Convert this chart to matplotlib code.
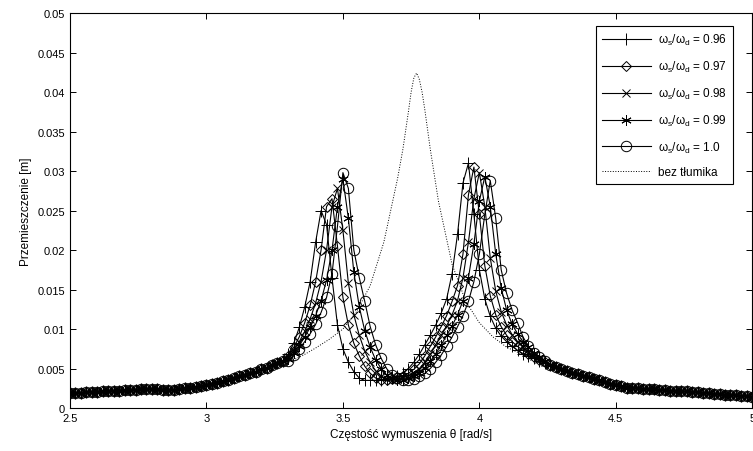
import numpy as np
import matplotlib
matplotlib.use('Agg')
import matplotlib.pyplot as plt

plt.rcParams['font.family'] = ['Liberation Sans', 'DejaVu Sans']
plt.rcParams['mathtext.fontset'] = 'custom'
plt.rcParams['mathtext.rm'] = 'Liberation Sans'
plt.rcParams['font.size'] = 8

# frequency grid (rad/s), step 0.02
x_left = np.round(np.arange(2.50, 3.29, 0.02), 2)
x_mid = np.round(np.arange(3.30, 4.29, 0.02), 2)
x_right = np.round(np.arange(4.30, 5.01, 0.02), 2)

# tails common for all damper curves
tail_left = [.0019, .0019, .0019, .0020, .0020, .0020, .0021, .0021, .0022, .0022,
             .0023, .0023, .0023, .0024, .0024, .0024, .0024, .0023, .0023, .0023,
             .0024, .0025, .0026, .0027, .0028, .0029, .0031, .0032, .0034, .0036,
             .0038, .0040, .0042, .0044, .0046, .0049, .0051, .0054, .0057, .0060]
tail_right = [.0050, .0047, .0045, .0043, .0041, .0039, .0037, .0035, .0033, .0031,
              .0029, .0028, .0026, .0025, .0025, .0024, .0024, .0024, .0023, .0023,
              .0022, .0022, .0021, .0021, .0020, .0020, .0019, .0019, .0018, .0018,
              .0017, .0017, .0016, .0015, .0015, .0014]

# middle part 3.30 .. 4.28
mid_096 = [.0068, .0082, .0102, .0128, .0160, .0210, .0250, .0232, .0165, .0105,
           .0075, .0058, .0046, .0038, .0035, .0035, .0035, .0036, .0037, .0039,
           .0041, .0045, .0050, .0058, .0068, .0080, .0092, .0105, .0120, .0138,
           .0170, .0220, .0285, .0310, .0245, .0175, .0138, .0116, .0101, .0091,
           .0084, .0078, .0073, .0069, .0066, .0063, .0060, .0057, .0054, .0052]
mid_097 = [.0066, .0077, .0090, .0108, .0130, .0160, .0200, .0255, .0265, .0205,
           .0140, .0105, .0082, .0066, .0053, .0044, .0038, .0036, .0036, .0037,
           .0039, .0041, .0044, .0049, .0056, .0066, .0078, .0090, .0103, .0117,
           .0135, .0155, .0195, .0270, .0305, .0245, .0180, .0142, .0118, .0103,
           .0092, .0084, .0078, .0073, .0069, .0065, .0061, .0058, .0055, .0052]
mid_098 = [.0064, .0073, .0084, .0097, .0113, .0133, .0160, .0200, .0255, .0278,
           .0225, .0158, .0118, .0092, .0072, .0058, .0047, .0040, .0037, .0036,
           .0037, .0039, .0041, .0045, .0050, .0058, .0068, .0080, .0092, .0104,
           .0118, .0136, .0165, .0210, .0265, .0298, .0255, .0190, .0148, .0122,
           .0105, .0093, .0084, .0077, .0071, .0066, .0062, .0058, .0055, .0052]
mid_099 = [.0062, .0070, .0079, .0090, .0102, .0117, .0136, .0162, .0200, .0255,
           .0290, .0240, .0172, .0128, .0098, .0077, .0061, .0050, .0042, .0038,
           .0036, .0036, .0038, .0041, .0045, .0051, .0059, .0069, .0080, .0092,
           .0104, .0118, .0136, .0165, .0208, .0262, .0293, .0255, .0195, .0152,
           .0124, .0106, .0094, .0084, .0077, .0070, .0064, .0059, .0055, .0052]
mid_100 = [.0060, .0067, .0075, .0084, .0094, .0106, .0121, .0140, .0170, .0230,
           .0298, .0278, .0200, .0165, .0135, .0103, .0080, .0063, .0050, .0042,
           .0038, .0036, .0036, .0037, .0040, .0044, .0050, .0058, .0067, .0078,
           .0090, .0103, .0117, .0135, .0160, .0195, .0245, .0288, .0240, .0175,
           .0145, .0124, .0108, .0090, .0078, .0070, .0064, .0059, .0055, .0052]

# response without damper
x_free = [2.5, 2.6, 2.7, 2.8, 2.9, 3.0, 3.1, 3.2, 3.3, 3.35, 3.4, 3.45, 3.5, 3.55,
          3.6, 3.65, 3.7, 3.72, 3.74, 3.75, 3.76, 3.77, 3.78, 3.79, 3.8, 3.82,
          3.85, 3.9, 3.95, 4.0, 4.05, 4.1, 4.15, 4.2, 4.3, 4.4, 4.5, 4.6, 4.7,
          4.8, 4.9, 5.0]
y_free = [.0019, .0021, .0023, .0025, .0027, .0031, .0037, .0046, .0058, .0066,
          .0076, .0087, .0100, .0122, .0155, .0210, .0290, .0328, .0375, .0400,
          .0418, .0424, .0416, .0400, .0378, .0328, .0262, .0182, .0135, .0108,
          .0090, .0077, .0069, .0064, .0050, .0039, .0030, .0025, .0022, .0019,
          .0016, .0014]

labels = ['0.96', '0.97', '0.98', '0.99', '1.0']
markers = ['+', 'D', 'x', (6, 2, 0), 'o']
msizes = [8.5, 5.5, 6, 7.5, 7.5]
mids = [mid_096, mid_097, mid_098, mid_099, mid_100]

xticks = [2.5, 3, 3.5, 4, 4.5, 5]
xticklabels = ['2.5', '3', '3.5', '4', '4.5', '5']
yticks = [0, 0.005, 0.01, 0.015, 0.02, 0.025, 0.03, 0.035, 0.04, 0.045, 0.05]
yticklabels = ['0', '0.005', '0.01', '0.015', '0.02', '0.025', '0.03', '0.035',
               '0.04', '0.045', '0.05']

fig = plt.figure(figsize=(7.53, 4.52), dpi=100)
ax = fig.add_axes([0.093, 0.095, 0.906, 0.874])

x_all = np.concatenate([x_left, x_mid, x_right])
for lab, m, ms, mid in zip(labels, markers, msizes, mids):
    y_all = np.concatenate([tail_left, mid, tail_right])
    ax.plot(x_all, y_all, color='k', lw=0.8, marker=m, ms=ms, mfc='none',
            mec='k', mew=0.7,
            label=r'ω$_\mathrm{s}$/ω$_\mathrm{d}$ = ' + lab)
ax.plot(x_free, y_free, 'k:', lw=0.7, label='bez tłumika')

ax.set_xlim(2.5, 5)
ax.set_ylim(0, 0.05)
ax.set_xticks(xticks)
ax.set_xticklabels(xticklabels)
ax.set_yticks(yticks)
ax.set_yticklabels(yticklabels)
ax.tick_params(direction='in', top=True, right=True, length=4, width=0.7,
               labelsize=8)
for s in ax.spines.values():
    s.set_linewidth(0.8)

ax.set_xlabel('Częstość wymuszenia θ [rad/s]', fontsize=8.5)
ax.set_ylabel('Przemieszczenie [m]', fontsize=8.5)

leg = ax.legend(loc='upper right', bbox_to_anchor=(0.972, 0.967), fontsize=8.5,
                fancybox=False, framealpha=1, edgecolor='k', handlelength=4.2,
                labelspacing=1.0, borderpad=0.5, handletextpad=0.6,
                borderaxespad=0)
leg.get_frame().set_linewidth(0.8)

fig.savefig('out.png', dpi=100)
